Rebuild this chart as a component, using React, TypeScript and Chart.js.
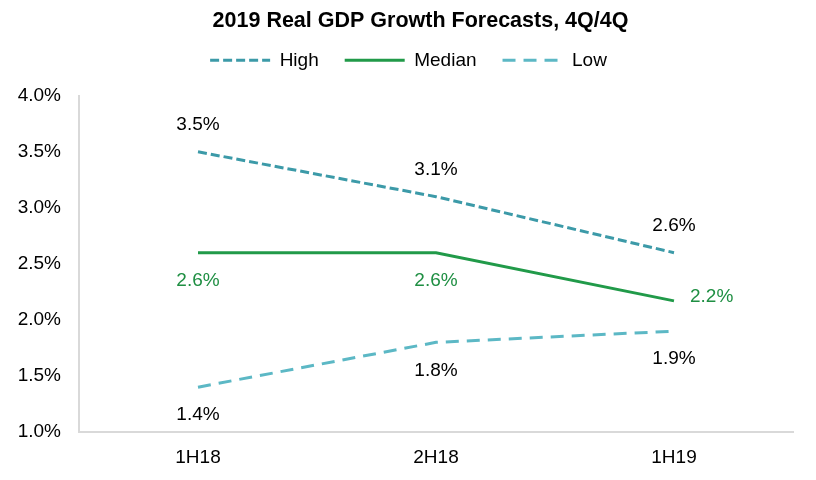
import React, { useEffect, useRef } from 'react';
import { Chart, registerables, layouts } from 'chart.js';

Chart.register(...registerables);

const periods = ['1H18', '2H18', '1H19'];
const highForecast = [3.5, 3.1, 2.6];
const medianForecast = [2.6, 2.6, 2.17];
const lowForecast = [1.4, 1.8, 1.9];
const yTicks = [1.0, 1.5, 2.0, 2.5, 3.0, 3.5, 4.0];

// where each value label sits relative to its point
const highPlacement = ['above', 'above', 'above'];
const medianPlacement = ['below', 'below', 'right'];
const lowPlacement = ['below', 'below', 'below'];

const FONT = "'Liberation Sans', Arial, sans-serif";

const valueLabels = {
  id: 'valueLabels',
  afterDatasetsDraw(chart: any) {
    const { ctx } = chart;
    ctx.save();
    ctx.font = `19px ${FONT}`;
    ctx.textBaseline = 'middle';
    chart.data.datasets.forEach((ds: any, i: number) => {
      const meta = chart.getDatasetMeta(i);
      meta.data.forEach((pt: any, j: number) => {
        const text = `${Number(ds.data[j]).toFixed(1)}%`;
        const where = ds.labelPlacement[j];
        ctx.fillStyle = ds.labelColor;
        if (where === 'right') {
          ctx.textAlign = 'left';
          ctx.fillText(text, pt.x + 16, pt.y - 4);
        } else {
          ctx.textAlign = 'center';
          ctx.fillText(text, pt.x, where === 'above' ? pt.y - 27 : pt.y + 28);
        }
      });
    });
    ctx.restore();
  },
};

// empty box under the legend to leave room above the plot, and nudge title/legend right
const headerTweaks = {
  id: 'headerTweaks',
  beforeInit(chart: any) {
    const box: any = {
      position: 'top',
      weight: 500,
      fullSize: true,
      options: {},
      top: 0, left: 0, right: 0, bottom: 0, width: 0, height: 0,
      isHorizontal: () => true,
      update(maxWidth: number) {
        box.width = maxWidth;
        box.height = 16;
      },
      draw() {},
    };
    layouts.addBox(chart, box);
  },
  afterLayout(chart: any) {
    if (chart.titleBlock) { chart.titleBlock.left += 24; chart.titleBlock.right += 24; }
    if (chart.legend) { chart.legend.left += 12; chart.legend.right += 12; }
  },
};

export default function App() {
  const canvasRef = useRef<HTMLCanvasElement>(null);

  useEffect(() => {
    const ctx = canvasRef.current?.getContext('2d');
    if (!ctx) return;
    const dashes: Record<string, number[]> = { High: [9, 4], Median: [], Low: [13, 8] };
    const chart = new Chart(ctx, {
      type: 'line',
      data: {
        labels: periods,
        datasets: [
          {
            label: 'High',
            data: highForecast,
            borderColor: '#3c9aa8',
            borderWidth: 3,
            borderDash: dashes.High,
            pointRadius: 0,
            fill: false,
            labelPlacement: highPlacement,
            labelColor: '#000000',
          } as any,
          {
            label: 'Median',
            data: medianForecast,
            borderColor: '#219a49',
            borderWidth: 3,
            pointRadius: 0,
            fill: false,
            labelPlacement: medianPlacement,
            labelColor: '#1f8f43',
          } as any,
          {
            label: 'Low',
            data: lowForecast,
            borderColor: '#5cb8c5',
            borderWidth: 3,
            borderDash: dashes.Low,
            pointRadius: 0,
            fill: false,
            labelPlacement: lowPlacement,
            labelColor: '#000000',
          } as any,
        ],
      },
      options: {
        animation: false,
        responsive: false,
        maintainAspectRatio: false,
        layout: { padding: { left: 0, right: 23, top: 0, bottom: 0 } },
        plugins: {
          title: {
            display: true,
            text: '2019 Real GDP Growth Forecasts, 4Q/4Q',
            color: '#000000',
            font: { family: FONT, size: 21.5, weight: 'bold' },
            padding: { top: 8, bottom: -9 },
          },
          legend: {
            display: true,
            labels: {
              color: '#000000',
              font: { family: FONT, size: 19 },
              usePointStyle: true,
              pointStyle: 'line',
              pointStyleWidth: 60,
              boxHeight: 19,
              padding: 26,
              generateLabels: (c: any) => {
                const items = Chart.defaults.plugins.legend.labels.generateLabels(c);
                return items.map((it: any) => ({ ...it, lineDash: dashes[it.text] || [], lineWidth: 3 }));
              },
            },
          },
          tooltip: { enabled: false },
        },
        scales: {
          x: {
            offset: true,
            grid: { display: false, drawTicks: false },
            border: { display: true, color: '#d9d9d9', width: 2 },
            ticks: { color: '#000000', font: { family: FONT, size: 19 }, padding: 14 },
            afterFit: (scale: any) => { scale.height = 48; },
          },
          y: {
            min: 1,
            max: 4,
            afterBuildTicks: (scale: any) => { scale.ticks = yTicks.map((v) => ({ value: v })); },
            grid: { display: false, drawTicks: false },
            border: { display: true, color: '#d9d9d9', width: 2 },
            ticks: {
              color: '#000000',
              font: { family: FONT, size: 19 },
              padding: 18,
              callback: (v: any) => `${Number(v).toFixed(1)}%`,
            },
            afterFit: (scale: any) => { scale.width = 79; },
          },
        },
      },
      plugins: [valueLabels, headerTweaks],
    });
    return () => chart.destroy();
  }, []);

  return (
    <div style={{ position: 'fixed', left: 0, top: 0, width: 816, height: 480, background: '#ffffff' }}>
      <canvas ref={canvasRef} width={816} height={480} style={{ width: 816, height: 480 }} />
    </div>
  );
}
